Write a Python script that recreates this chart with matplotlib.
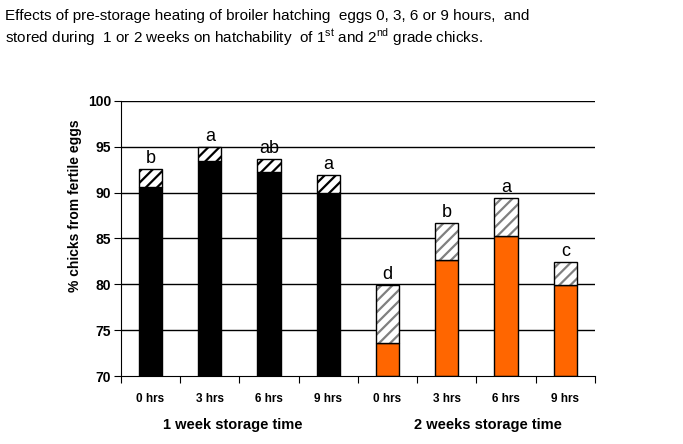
import numpy as np
import matplotlib
matplotlib.use("Agg")
import matplotlib.pyplot as plt

plt.rcParams['font.family'] = ['Liberation Sans', 'DejaVu Sans']
plt.rcParams['mathtext.fontset'] = 'custom'
plt.rcParams['mathtext.rm'] = 'Liberation Sans'
plt.rcParams['hatch.linewidth'] = 1.6

# data
hours = ['0 hrs', '3 hrs', '6 hrs', '9 hrs', '0 hrs', '3 hrs', '6 hrs', '9 hrs']
first_grade = [90.6, 93.4, 92.2, 90.0, 73.6, 82.7, 85.3, 79.9]
total = [92.55, 94.95, 93.65, 91.9, 79.9, 86.65, 89.4, 82.4]
letters = ['b', 'a', 'ab', 'a', 'd', 'b', 'a', 'c']
groups = ['1 week storage time', '2 weeks storage time']

x = np.arange(len(hours))
w = 0.39
week = np.array([0, 0, 0, 0, 1, 1, 1, 1])
base_col = np.where(week == 0, 'black', '#FF6600')
hatch_col = np.where(week == 0, 'black', '#808080')
second_grade = np.array(total) - np.array(first_grade)

fig = plt.figure(figsize=(6.83, 4.44), dpi=100)
ax = fig.add_axes([0.177, 0.153, 0.694, 0.62])

for yv in [75, 80, 85, 90, 95, 100]:
    ax.axhline(yv, color='black', lw=1, zorder=1)

ax.bar(x, np.array(first_grade) - 70, bottom=70, width=w, color=base_col,
       edgecolor='black', lw=1, zorder=2)
# hatched part drawn with hatch colour, then black outline on top
for i in range(len(x)):
    ax.bar(x[i], second_grade[i], bottom=first_grade[i], width=w, color='white',
           edgecolor=hatch_col[i], hatch='///', lw=0, zorder=2)
ax.bar(x, second_grade, bottom=first_grade, width=w, fill=False,
       edgecolor='black', lw=1, zorder=3)

for i in range(len(x)):
    ax.text(x[i], total[i] + 0.7, letters[i], ha='center', va='baseline',
            fontsize=13)

ax.set_xlim(-0.5, 7.5)
ax.set_ylim(70, 100)
ax.set_yticks([70, 75, 80, 85, 90, 95, 100])
ax.set_xticks(np.arange(-0.5, 8, 1))
ax.set_xticklabels([])
ax.set_xticks(x, minor=True)
ax.set_xticklabels(hours, minor=True, fontweight='bold', fontsize=8.5)
ax.tick_params(axis='x', which='minor', length=0, pad=12)
ax.tick_params(axis='x', which='major', length=5, direction='out')
ax.tick_params(axis='y', length=5, direction='out', labelsize=10, pad=2)
for lab in ax.get_yticklabels():
    lab.set_fontweight('bold')

for s in ['top', 'right']:
    ax.spines[s].set_visible(False)

ax.set_ylabel('% chicks from fertile eggs', fontsize=10, fontweight='bold')
ax.yaxis.set_label_coords(-0.082, 0.62)

ax.text(1.38, 64.7, groups[0], ha='center', va='center', fontsize=10.5,
        fontweight='bold')
ax.text(5.7, 64.7, groups[1], ha='center', va='center', fontsize=10.5,
        fontweight='bold')

fig.text(0.008, 0.955, 'Effects of pre-storage heating of broiler hatching  eggs 0, 3, 6 or 9 hours,  and',
         fontsize=11, va='baseline')
fig.text(0.008, 0.903, r'stored during  1 or 2 weeks on hatchability  of $1^{\mathrm{st}}$ and $2^{\mathrm{nd}}$ grade chicks.',
         fontsize=11, va='baseline')

fig.savefig('out.png', dpi=100)
